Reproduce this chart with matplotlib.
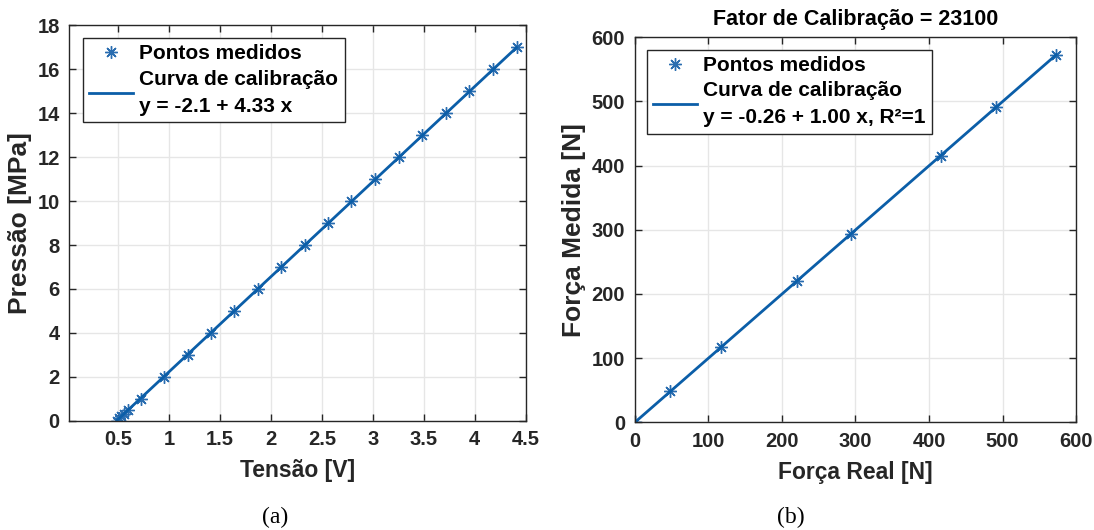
import numpy as np
import matplotlib
matplotlib.use('Agg')
import matplotlib.pyplot as plt

# Dados (a) - calibração do transdutor de pressão
tensao = [0.49, 0.51, 0.53, 0.56, 0.60, 0.72, 0.95, 1.18, 1.41, 1.64, 1.87, 2.10,
          2.33, 2.56, 2.79, 3.02, 3.26, 3.48, 3.72, 3.94, 4.18, 4.41]
pressao = [0, 0.1, 0.2, 0.3, 0.5, 1, 2, 3, 4, 5, 6, 7, 8, 9, 10, 11, 12, 13, 14, 15, 16, 17]
coef_a = [-2.1, 4.33]
ticks_xa = [0.5, 1, 1.5, 2, 2.5, 3, 3.5, 4, 4.5]
labels_xa = ['0.5', '1', '1.5', '2', '2.5', '3', '3.5', '4', '4.5']
ticks_ya = [0, 2, 4, 6, 8, 10, 12, 14, 16, 18]

# Dados (b) - célula de carga
forca_real = [0, 48.5, 117.6, 220.8, 293.7, 415.8, 491.4, 572.9]
forca_medida = [0, 48.4, 117.5, 220.6, 293.5, 415.6, 491.2, 572.7]
coef_b = [-0.26, 1.00]
ticks_b = [0, 100, 200, 300, 400, 500, 600]

plt.rcParams['font.family'] = ['Liberation Sans', 'DejaVu Sans']
plt.rcParams['font.weight'] = 'bold'

cor_txt = '#262626'
cor_linha = '#0b5ea8'
cor_marc = '#2a6db0'
asterisco = (8, 2, 0)
tam_tick = 14.5
tam_leg = 15

fig = plt.figure(figsize=(10.94, 5.3), dpi=100)
ax1 = fig.add_axes([0.0634, 0.2064, 0.4171, 0.7455])
ax2 = fig.add_axes([0.5802, 0.2032, 0.4034, 0.7264])


def estilo(ax):
    ax.grid(True, color='#e6e6e6', linewidth=1)
    ax.set_axisbelow(True)
    ax.tick_params(direction='in', length=5, width=1, top=True, right=True,
                   colors=cor_txt, pad=7)
    for s in ax.spines.values():
        s.set_color(cor_txt)
        s.set_linewidth(1)


def legenda(ax, anc):
    leg = ax.legend(loc='upper left', bbox_to_anchor=anc, fancybox=False,
                    edgecolor=cor_txt, framealpha=1, handlelength=2.1,
                    borderpad=0.3, labelspacing=0.3, handletextpad=0.3,
                    borderaxespad=0, prop={'weight': 'bold', 'size': tam_leg})
    leg.get_frame().set_linewidth(1)
    for t in leg.get_texts():
        t.set_linespacing(1.55)
    return leg


# Gráfico (a)
xa = np.array([min(tensao), max(tensao)])
ax1.plot(tensao, pressao, linestyle='none', marker=asterisco, markersize=9,
         markeredgewidth=1.0, color=cor_marc, label='Pontos medidos')
ax1.plot(xa, coef_a[0] + coef_a[1] * xa, color=cor_linha, linewidth=2,
         label='Curva de calibração\ny = -2.1 + 4.33 x')
ax1.set_xlim(0.02, 4.5)
ax1.set_ylim(0, 18)
ax1.set_xticks(ticks_xa, labels_xa, fontweight='bold', fontsize=tam_tick)
ax1.set_yticks(ticks_ya, [str(v) for v in ticks_ya], fontweight='bold', fontsize=tam_tick)
ax1.set_xlabel('Tensão [V]', fontweight='bold', fontsize=16.5, color=cor_txt, labelpad=7)
ax1.set_ylabel('Pressão [MPa]', fontweight='bold', fontsize=19, color=cor_txt, labelpad=4)
estilo(ax1)
legenda(ax1, (0.03, 0.968))

# Gráfico (b)
xb = np.array([min(forca_real), max(forca_real)])
ax2.plot(forca_real, forca_medida, linestyle='none', marker=asterisco, markersize=9,
         markeredgewidth=1.0, color=cor_marc, label='Pontos medidos')
ax2.plot(xb, coef_b[0] + coef_b[1] * xb, color=cor_linha, linewidth=2,
         label='Curva de calibração\ny = -0.26 + 1.00 x, R²=1')
ax2.set_xlim(0, 600)
ax2.set_ylim(0, 600)
ax2.set_xticks(ticks_b, [str(v) for v in ticks_b], fontweight='bold', fontsize=tam_tick)
ax2.set_yticks(ticks_b, [str(v) for v in ticks_b], fontweight='bold', fontsize=tam_tick)
ax2.set_xlabel('Força Real [N]', fontweight='bold', fontsize=16.5, color=cor_txt, labelpad=7)
ax2.set_ylabel('Força Medida [N]', fontweight='bold', fontsize=19, color=cor_txt, labelpad=4)
ax2.set_title('Fator de Calibração = 23100', fontweight='bold', color='black',
              fontsize=15.5, pad=9)
estilo(ax2)
legenda(ax2, (0.027, 0.968))

# Legendas das figuras
fig.text(0.2515, 0.0245, '(a)', family='Liberation Serif', fontweight='normal',
         fontsize=17, ha='center', va='center')
fig.text(0.7225, 0.0245, '(b)', family='Liberation Serif', fontweight='normal',
         fontsize=17, ha='center', va='center')

fig.savefig('out.png', dpi=100)
